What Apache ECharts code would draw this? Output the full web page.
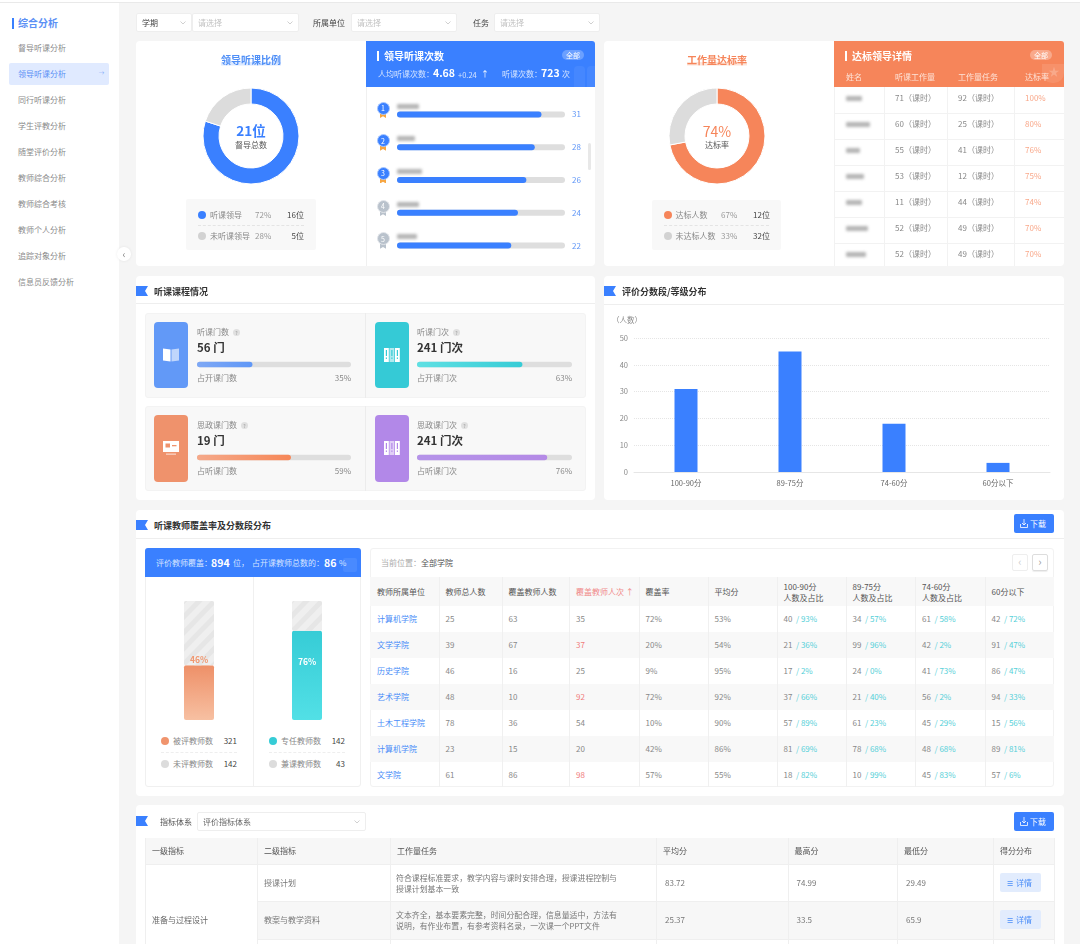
<!DOCTYPE html>
<html lang="zh-CN">
<head>
<meta charset="UTF-8">
<title>领导听课分析</title>
<style>
  html, body { margin: 0; padding: 0; width: 1080px; height: 944px; overflow: hidden; background: #f5f5f5; }
  #page { position: relative; width: 1080px; height: 944px; overflow: hidden; font-family: "Noto Sans CJK SC", "Noto Sans", sans-serif; filter: blur(.3px); }
  #page div { position: absolute; box-sizing: border-box; }
  .t { white-space: nowrap; line-height: 1; }
</style>
</head>
<body>
<div id="page"></div>
<script src="https://cdn.jsdelivr.net/npm/echarts@6/dist/echarts.min.js"></script>
<script>
// ---------- data ----------
var menuItems = ['督导听课分析', '领导听课分析', '同行听课分析', '学生评教分析', '随堂评价分析', '教师综合分析', '教师综合考核', '教师个人分析', '追踪对象分析', '信息员反馈分析'];

var leaderSlices = [80, 20];
var rankValues = [31, 28, 26, 24, 22];
var rankFill = [86, 82, 77, 72, 68];

var workSlices = [72, 28];
var detailWork = [71, 60, 55, 53, 11, 52, 52];
var detailTask = [92, 25, 41, 12, 44, 49, 49];
var detailRate = [100, 80, 76, 75, 74, 70, 70];

var courseTitles = ['听课门数', '听课门次', '思政课门数', '思政课门次'];
var courseValues = ['56 门', '241 门次', '19 门', '241 门次'];
var courseFootnotes = ['占开课门数', '占开课门次', '占听课门数', '占听课门次'];
var coursePercents = [35, 63, 59, 76];
var courseFill = [36, 68, 61, 84];

var scoreBands = ['100-90分', '89-75分', '74-60分', '60分以下'];
var scoreCounts = [31, 45, 18, 3.4];

var coverCovered = [46, 75];
var coverLabels = ['46%', '76%'];

var unitHeaders = ['教师所属单位', '教师总人数', '覆盖教师人数', '覆盖教师人次 ↑', '覆盖率', '平均分', '100-90分\n人数及占比', '89-75分\n人数及占比', '74-60分\n人数及占比', '60分以下'];
var unitNames = ['计算机学院', '文学学院', '历史学院', '艺术学院', '土木工程学院', '计算机学院', '文学院'];
var unitTotal = [25, 39, 46, 48, 78, 23, 61];
var unitCovered = [63, 67, 16, 10, 36, 15, 86];
var unitVisits = [35, 37, 25, 92, 54, 20, 98];
var unitRate = [72, 20, 9, 72, 10, 42, 57];
var unitAvg = [53, 54, 95, 92, 90, 86, 55];
var band1 = [[40, 93], [21, 36], [17, 2], [37, 66], [57, 89], [81, 69], [18, 82]];
var band2 = [[34, 57], [99, 96], [24, 0], [21, 40], [61, 23], [78, 68], [10, 99]];
var band3 = [[61, 58], [42, 2], [41, 73], [56, 2], [45, 29], [48, 68], [45, 83]];
var band4 = [[42, 72], [91, 47], [86, 47], [94, 33], [15, 56], [89, 81], [57, 6]];
var redVisits = [37, 92, 98];

var indexHeaders = ['一级指标', '二级指标', '工作量任务', '平均分', '最高分', '最低分', '得分分布'];
var indexNames = ['授课计划', '教案与教学资料'];
var indexTasks = [
  ['符合课程标准要求，教学内容与课时安排合理，授课进程控制与', '授课计划基本一致'],
  ['文本齐全，基本要素完整，时间分配合理，信息量适中，方法有', '说明，有作业布置，有参考资料名录，一次课一个PPT文件']
];
var indexAvg = ['83.72', '25.37'];
var indexMax = ['74.99', '33.5'];
var indexMin = ['29.49', '65.9'];

// ---------- colours ----------
var BLUE = '#3a80ff', ORANGE = '#f6855a', GREY = '#dcdcdc';
var FONT = '"Noto Sans CJK SC", "Noto Sans", sans-serif';

// ---------- helpers ----------
var page = document.getElementById('page');

function box(x, y, w, h, css, html) {
  var d = document.createElement('div');
  d.style.cssText = 'left:' + x + 'px;top:' + y + 'px;width:' + w + 'px;height:' + h + 'px;' + (css || '');
  if (html) d.innerHTML = html;
  page.appendChild(d);
  return d;
}

// y is the vertical centre of the text
function txt(x, y, s, size, color, opt) {
  opt = opt || {};
  var d = document.createElement('div');
  var tx = opt.align === 'c' ? '-50%' : opt.align === 'r' ? '-100%' : '0';
  d.className = 't';
  d.style.cssText = 'left:' + x + 'px;top:' + y + 'px;font-size:' + size + 'px;color:' + color + ';' +
    'transform:translate(' + tx + ',-50%);' + (opt.bold ? 'font-weight:700;' : '') + (opt.css || '');
  d.innerHTML = s;
  page.appendChild(d);
  return d;
}

function chart(x, y, w, h, option) {
  var c = echarts.init(box(x, y, w, h));
  option.animation = false;
  option.textStyle = { fontFamily: FONT };
  c.setOption(option);
  return c;
}

function panel(x, y, w, h) {
  box(x, y, w, h, 'background:#fff;border-radius:4px;');
}

function flag(x, y, s) {
  box(x, y, 12, 10, '', '<svg width="12" height="10" style="display:block"><polygon points="0,0 12,0 9,5 12,10 0,10" fill="' + BLUE + '"/></svg>');
  if (s) txt(x + 18, y + 5, s, 9, '#333', { bold: true });
}

function select(x, w, y, h, label, color) {
  box(x, y, w, h, 'background:#fff;border:1px solid #eee;border-radius:2px;');
  txt(x + 6, y + h / 2, label, 8, color);
  box(x + w - 12, y + h / 2 - 2, 6, 4, '', '<svg width="6" height="4" style="display:block"><path d="M.5 .5L3 3L5.5 .5" stroke="#bbb" fill="none" stroke-width=".7"/></svg>');
}

function blurName(x, y, w) {
  box(x, y - 2.5, w, 5, 'background:#b5b5b5;filter:blur(1.5px);border-radius:1px;');
}

function legendRow(x, right, y, color, name, pct, val) {
  box(x - 4, y - 4, 8, 8, 'border-radius:50%;background:' + color + ';');
  txt(x + 8, y, name, 8, '#888');
  if (pct) txt(right - 49, y, pct, 8, '#999');
  txt(right, y, val, 8, '#444', { align: 'r' });
}

function donut(cx, cy, values, colors) {
  chart(cx - 60, cy - 60, 120, 120, {
    series: [{
      type: 'pie', center: ['50%', '50%'], radius: [32, 48], startAngle: 90, silent: true,
      label: { show: false }, labelLine: { show: false },
      itemStyle: { borderColor: '#fff', borderWidth: 1 },
      data: values.map(function (v, i) { return { value: v, itemStyle: { color: colors[i] } }; })
    }]
  });
}

// ---------- shell ----------
box(0, 0, 1080, 3, 'background:#fff;border-bottom:1px solid #e9e9e9;');
box(0, 3, 119, 941, 'background:#fff;');
box(12, 18, 2, 11, 'background:' + BLUE + ';');
txt(18, 23, '综合分析', 10, '#5b90f5', { bold: true });
box(9, 63, 100, 22, 'background:#e0eaff;border-radius:2px;');
menuItems.forEach(function (m, i) {
  txt(18, 48 + i * 26, m, 8, i === 1 ? '#5b90f5' : '#8a8a8a');
});
txt(101.5, 74, '→', 5.5, '#7aa5f7', { align: 'c' });
box(117, 247, 14, 14, 'background:#fff;border-radius:50%;box-shadow:0 0 3px rgba(0,0,0,.08);');
txt(124, 253.5, '‹', 10, '#888', { align: 'c' });

// filters
select(136, 56, 13, 19, '学期', '#444');
select(192, 107, 13, 19, '请选择', '#c2c2c2');
txt(313, 22.5, '所属单位', 8, '#444');
select(351, 106, 13, 19, '请选择', '#c2c2c2');
txt(473, 22.5, '任务', 8, '#444');
select(494, 106, 13, 19, '请选择', '#c2c2c2');

// ---------- top left: 领导听课 ----------
panel(136, 41, 459, 225);
txt(251, 60, '领导听课比例', 10, '#4f8ff7', { align: 'c', bold: true, css: 'padding:0 0 1px;background:linear-gradient(transparent 65%,#dbe8ff 65%);' });
donut(251, 136, leaderSlices, [BLUE, GREY]);
txt(251, 131, '21位', 13.5, BLUE, { align: 'c', bold: true });
txt(251, 145, '督导总数', 8, '#555', { align: 'c' });
box(186, 199, 130, 51, 'background:#f8f8f8;border-radius:2px;');
box(198, 225, 106, 0, 'border-top:1px dashed #e4e4e4;');
legendRow(202, 304, 215, BLUE, '听课领导', '72%', '16位');
legendRow(202, 304, 236, '#d2d2d2', '未听课领导', '28%', '5位');

box(366, 87, 229, 179, 'border-left:1px solid #f0f0f0;');
box(366, 41, 229, 46, 'background:' + BLUE + ';border-radius:0 3px 0 0;overflow:hidden;');
box(574, 66, 11, 21, 'background:rgba(255,255,255,.06);border-radius:4px 4px 0 0;');
box(587, 66, 8, 21, 'background:rgba(255,255,255,.06);border-radius:4px 0 0 0;');
box(377, 51, 2, 10, 'background:#fff;');
txt(384, 56, '领导听课次数', 10, '#fff', { bold: true });
box(562, 50, 22, 10, 'background:rgba(255,255,255,.25);border-radius:5px;');
txt(573, 55, '全部', 7, '#fff', { align: 'c' });
txt(378, 74, '人均听课次数：', 8, '#d5e4ff');
txt(433, 73, '4.68', 10.5, '#fff', { bold: true });
txt(458, 74.5, '+0.24', 7.5, '#d5e4ff');
txt(481, 74, '↑', 8, '#fff');
txt(502, 74, '听课次数：', 8, '#d5e4ff');
txt(541, 73, '723', 10.5, '#fff', { bold: true });
txt(562, 74, '次', 8, '#d5e4ff');

var rankNameW = [22, 18, 25, 22, 20];
rankValues.forEach(function (v, i) {
  var cy = 108 + i * 32.7;
  var top3 = i < 3;
  box(380, cy + 5, 6, 5, 'background:' + (top3 ? '#f7a641' : '#b9c2cc') + ';clip-path:polygon(0 0,100% 0,100% 100%,50% 65%,0 100%);');
  box(376.5, cy - 6.5, 13, 13, 'border-radius:50%;border:1.5px solid ' + (top3 ? '#a9c8ff' : '#e2e5ea') + ';background:' + (top3 ? BLUE : '#b9c2cc') + ';');
  txt(383, cy, String(i + 1), 7, '#fff', { align: 'c' });
  blurName(397, cy - 2, rankNameW[i]);
});
box(587.5, 143, 3, 27, 'background:#e8e8e8;border-radius:2px;');
chart(397, 98, 190, 164, {
  grid: { left: 0, right: 22, top: 0, bottom: 0 },
  xAxis: { type: 'value', min: 0, max: 100, show: false },
  yAxis: {
    type: 'category', position: 'right', inverse: true, data: rankValues.map(String),
    axisLine: { show: false }, axisTick: { show: false },
    axisLabel: { color: '#5f96f7', fontSize: 8, margin: 7 }
  },
  series: [{
    type: 'bar', data: rankFill, barWidth: 6, silent: true,
    showBackground: true, backgroundStyle: { color: '#dedede', borderRadius: 3 },
    itemStyle: { color: BLUE, borderRadius: 3 }
  }]
});

// ---------- top right: 工作量达标 ----------
panel(604, 41, 459.5, 225);
txt(717, 60, '工作量达标率', 10, '#f6855a', { align: 'c', bold: true, css: 'padding:0 0 1px;background:linear-gradient(transparent 65%,#fde5da 65%);' });
donut(717, 136, workSlices, [ORANGE, GREY]);
txt(717, 130.5, '74%', 14, '#f6855a', { align: 'c' });
txt(717, 145, '达标率', 8, '#555', { align: 'c' });
box(652, 200, 129, 50, 'background:#f8f8f8;border-radius:2px;');
box(664, 225, 105, 0, 'border-top:1px dashed #e4e4e4;');
legendRow(667.5, 770, 215, ORANGE, '达标人数', '67%', '12位');
legendRow(667.5, 770, 236, '#d2d2d2', '未达标人数', '33%', '32位');

box(834, 41, 229.5, 46, 'background:' + ORANGE + ';border-radius:0 3px 0 0;');
box(1042, 64, 21.5, 19, 'background:rgba(255,255,255,.1);border-radius:0 0 10px 10px;');
txt(1054, 71, '★', 11, 'rgba(255,255,255,.22)', { align: 'c' });
box(845, 51, 2, 10, 'background:#fff;');
txt(852, 56, '达标领导详情', 10, '#fff', { bold: true });
box(1030, 50, 22, 10, 'background:rgba(255,255,255,.3);border-radius:5px;');
txt(1041, 55, '全部', 7, '#fff', { align: 'c' });
txt(846, 77, '姓名', 8, '#fde3d8');
txt(895, 77, '听课工作量', 8, '#fde3d8');
txt(958, 77, '工作量任务', 8, '#fde3d8');
txt(1025, 77, '达标率', 8, '#fde3d8');
var detailNameW = [16, 24, 14, 18, 16, 22, 20];
detailWork.forEach(function (w, i) {
  var top = 87 + i * 26, cy = top + 11;
  if (i > 0) box(834, top, 229.5, 0, 'border-top:1px solid #f2f2f2;');
  blurName(846, cy, detailNameW[i]);
  txt(895, cy, w + '（课时）', 8, '#888');
  txt(958, cy, detailTask[i] + '（课时）', 8, '#888');
  txt(1025, cy, detailRate[i] + '%', 8, '#f9a88a');
});
[834, 884, 947, 1014].forEach(function (x) { box(x, 87, 0, 179, 'border-left:1px solid #f2f2f2;'); });

// ---------- 听课课程情况 ----------
panel(136, 276, 459, 224);
box(136, 303, 459, 0, 'border-top:1px solid #eee;');
flag(136, 286, '听课课程情况');
box(145, 313, 441, 85, 'background:#f8f8f8;border-radius:3px;border:1px solid #f3f3f3;');
box(145, 406, 441, 85, 'background:#f8f8f8;border-radius:3px;border:1px solid #f3f3f3;');
box(365, 313, 0, 85, 'border-left:1px solid #ececec;');
box(365, 406, 0, 85, 'border-left:1px solid #ececec;');

var courseColors = ['#6299f7', '#35cad6', '#ef926c', '#b288e8'];
var barColors = [['#7ea8f5', '#5f97f7'], ['#5fe0e3', '#36ccd6'], ['#f5a98a', '#f68758'], ['#b593e9', '#b48ae6']];

function iconBook() {
  return '<svg width="16" height="14" style="display:block"><path d="M0 .5 L7.5 1.5 V13.5 L0 12.5Z" fill="#fff"/><path d="M8.5 1.5 L16 .5 V12.5 L8.5 13.5Z" fill="#fff" opacity=".6"/></svg>';
}
function iconBinders(c) {
  var s = '<svg width="16" height="14" style="display:block">';
  [0, 5.5, 11].forEach(function (x, i) {
    s += '<rect x="' + x + '" y="0" width="4.8" height="14" fill="#fff" opacity="' + (i === 1 ? .6 : 1) + '"/>' +
      '<rect x="' + (x + 1.8) + '" y="2" width="1.2" height="6" fill="' + c + '"/>' +
      '<rect x="' + (x + 1.8) + '" y="9.5" width="1.2" height="1.4" fill="' + c + '"/>';
  });
  return s + '</svg>';
}
function iconCard(c) {
  return '<svg width="16" height="14" style="display:block"><rect x="0" y="0" width="16" height="11" fill="#fff"/><rect x="2.5" y="2.5" width="4.5" height="4" fill="' + c + '"/><rect x="9" y="4" width="4.5" height="1.3" fill="' + c + '"/><rect x="3" y="12.5" width="10" height="1.3" fill="#fff" opacity=".6"/></svg>';
}
var courseIcons = [iconBook, iconBinders, iconCard, iconBinders];

courseTitles.forEach(function (title, i) {
  var col = i % 2, row = i < 2 ? 0 : 1;
  var cardX = col ? 375 : 154, textX = col ? 417 : 197, barW = col ? 155 : 154;
  var top = row ? 415 : 322, cardH = row ? 67 : 66;
  box(cardX, top, 33.5, cardH, 'border-radius:4px;background:' + courseColors[i] + ';');
  box(cardX + 9, top + 26, 16, 14, '', courseIcons[i](courseColors[i]));
  var tip = txt(textX, top + 10, title, 8, '#888');
  box(textX + tip.offsetWidth + 4, top + 6.5, 7, 7, 'background:#e0e0e0;border-radius:50%;');
  txt(textX + tip.offsetWidth + 7.5, top + 10, '?', 5, '#999', { align: 'c' });
  txt(textX, top + 26, courseValues[i], 11.5, '#333', { bold: true });
  chart(textX, top + 39, barW, 7, {
    grid: { left: 0, right: 0, top: 0, bottom: 0 },
    xAxis: { type: 'value', min: 0, max: 100, show: false },
    yAxis: { type: 'category', data: [title], show: false },
    series: [{
      type: 'bar', data: [courseFill[i]], barWidth: 5.5, silent: true,
      showBackground: true, backgroundStyle: { color: '#dedede', borderRadius: 3 },
      itemStyle: {
        borderRadius: 3,
        color: new echarts.graphic.LinearGradient(0, 0, 1, 0, [
          { offset: 0, color: barColors[i][0] }, { offset: 1, color: barColors[i][1] }
        ])
      }
    }]
  });
  txt(textX, top + 56, courseFootnotes[i], 8, '#888');
  txt(textX + barW, top + 56, coursePercents[i] + '%', 8, '#888', { align: 'r' });
});

// ---------- 评价分数段 ----------
panel(604, 276, 459.5, 224);
box(604, 304, 459.5, 0, 'border-top:1px solid #eee;');
flag(604, 286, '评价分数段/等级分布');
chart(604, 305, 460, 195, {
  grid: { left: 30, right: 14, top: 33, bottom: 28 },
  xAxis: {
    type: 'category', data: scoreBands,
    axisLine: { lineStyle: { color: '#e6e6e6', width: 1 } }, axisTick: { show: false },
    axisLabel: { color: '#666', fontSize: 7.5, margin: 7 }
  },
  yAxis: {
    type: 'value', min: 0, max: 50, interval: 10, name: '（人数）', nameGap: 14,
    nameTextStyle: { color: '#888', fontSize: 7.5, align: 'center', padding: [0, 14, 0, 0] },
    axisLine: { show: false }, axisTick: { show: false },
    axisLabel: { color: '#888', fontSize: 7.5, margin: 6 },
    splitLine: { lineStyle: { type: 'dotted', color: '#e5e5e5' } }
  },
  series: [{ type: 'bar', data: scoreCounts, barWidth: 23, silent: true, itemStyle: { color: BLUE } }]
});

// ---------- 听课教师覆盖率 ----------
panel(136, 510, 927.5, 286);
box(136, 538, 927.5, 0, 'border-top:1px solid #eee;');
flag(136, 520, '听课教师覆盖率及分数段分布');
function downloadBtn(y) {
  box(1014, y, 40, 19, 'background:' + BLUE + ';border-radius:2px;');
  box(1020, y + 5, 8, 9, '', '<svg width="8" height="9" style="display:block"><path d="M4 0V6 M2 4L4 6L6 4 M.5 5V8.5H7.5V5" stroke="#fff" fill="none" stroke-width=".8"/></svg>');
  txt(1030, y + 9.5, '下载', 8, '#fff');
}
downloadBtn(514);

box(145, 548, 216, 239, 'border:1px solid #f0f0f0;border-radius:3px;');
box(145, 548, 216, 29, 'background:' + BLUE + ';border-radius:3px 3px 0 0;overflow:hidden;');
box(343, 558, 14, 14, 'background:rgba(255,255,255,.08);border-radius:2px;');
txt(156, 563, '评价教师覆盖：', 8, '#d5e4ff');
txt(211, 562.5, '894', 10.5, '#fff', { bold: true });
txt(233, 563, '位，', 8, '#d5e4ff');
txt(252, 563, '占开课教师总数的：', 8, '#d5e4ff');
txt(324, 562.5, '86', 10.5, '#fff', { bold: true });
txt(339, 563, '%', 8, '#d5e4ff');
box(253, 577, 0, 210, 'border-left:1px solid #f0f0f0;');

chart(145, 590, 216, 140, {
  grid: { left: 0, right: 0, top: 11, bottom: 10 },
  xAxis: { type: 'category', data: ['被评教师', '专任教师'], show: false },
  yAxis: { type: 'value', min: 0, max: 100, show: false },
  series: [{
    type: 'bar', stack: 'cover', barWidth: 30, silent: true,
    data: [{
      value: coverCovered[0],
      itemStyle: {
        borderRadius: 2,
        color: new echarts.graphic.LinearGradient(0, 0, 0, 1, [{ offset: 0, color: '#ee9068' }, { offset: 1, color: '#f7c0a2' }])
      },
      label: { show: true, position: 'top', offset: [0, 4], formatter: coverLabels[0], color: '#f0976f', fontSize: 8.5, fontWeight: 700 }
    }, {
      value: coverCovered[1],
      itemStyle: {
        borderRadius: 2,
        color: new echarts.graphic.LinearGradient(0, 0, 0, 1, [{ offset: 0, color: '#36ccd6' }, { offset: 1, color: '#52e0e6' }])
      },
      label: { show: true, position: 'insideTop', offset: [0, 22], formatter: coverLabels[1], color: '#fff', fontSize: 8.5, fontWeight: 700 }
    }]
  }, {
    type: 'bar', stack: 'cover', barWidth: 30, silent: true,
    data: coverCovered.map(function (v) { return 100 - v; }),
    itemStyle: {
      color: '#efefef', borderRadius: 2,
      decal: { symbol: 'rect', rotation: -0.8, dashArrayX: [1, 0], dashArrayY: [5, 6], color: '#e6e6e6', symbolSize: 1 }
    }
  }]
});

box(161, 752, 76, 0, 'border-top:1px dashed #eee;');
box(269, 752, 76, 0, 'border-top:1px dashed #eee;');
legendRow(165, 237, 741, '#f0946d', '被评教师数', '', '321');
legendRow(165, 237, 764, '#dcdcdc', '未评教师数', '', '142');
legendRow(273, 345, 741, '#36ccd6', '专任教师数', '', '142');
legendRow(273, 345, 764, '#dcdcdc', '兼课教师数', '', '43');

box(370, 548, 684, 239, 'border:1px solid #f2f2f2;border-radius:3px;');
txt(381, 563, '当前位置：', 8, '#aaa');
txt(421, 563, '全部学院', 8, '#555');
box(1012, 554, 16, 17, 'border:1px solid #eee;border-radius:2px;');
txt(1020, 561, '‹', 11, '#ccc', { align: 'c' });
box(1032, 554, 16, 17, 'border:1px solid #ddd;border-radius:2px;box-shadow:0 1px 1px #eee;');
txt(1040, 561, '›', 11, '#999', { align: 'c' });

var colX = [370, 438.5, 501.5, 569, 638.5, 707.5, 776.5, 845.5, 915, 984.5, 1054];
box(370, 577, 684, 29, 'background:#f8f8f8;');
unitNames.forEach(function (n, i) {
  if (i % 2) box(370, 606 + i * 26, 684, 26, 'background:#f8f8f8;');
});
colX.slice(1, -1).forEach(function (x) { box(x, 577, 0, 210, 'border-left:1px solid #f0f0f0;'); });
unitHeaders.forEach(function (h, c) {
  var lines = h.split('\n'), color = c === 3 ? '#f08a8a' : '#555';
  if (lines.length > 1) {
    txt(colX[c] + 7, 586.5, lines[0], 8, color);
    txt(colX[c] + 7, 597.5, lines[1], 8, color);
  } else {
    txt(colX[c] + 7, 592, h, 8, color);
  }
});
function bandCell(x, y, pair) {
  txt(x, y, pair[0] + '<span style="color:#55d0d8">&nbsp;&nbsp;/ ' + pair[1] + '%</span>', 8, '#888');
}
unitNames.forEach(function (n, i) {
  var cy = 619 + i * 26;
  txt(colX[0] + 7, cy, n, 8, '#4a8df8');
  txt(colX[1] + 7, cy, unitTotal[i], 8, '#888');
  txt(colX[2] + 7, cy, unitCovered[i], 8, '#888');
  txt(colX[3] + 7, cy, unitVisits[i], 8, redVisits.indexOf(unitVisits[i]) >= 0 ? '#f07c7c' : '#888');
  txt(colX[4] + 7, cy, unitRate[i] + '%', 8, '#888');
  txt(colX[5] + 7, cy, unitAvg[i] + '%', 8, '#888');
  bandCell(colX[6] + 7, cy, band1[i]);
  bandCell(colX[7] + 7, cy, band2[i]);
  bandCell(colX[8] + 7, cy, band3[i]);
  bandCell(colX[9] + 7, cy, band4[i]);
});

// ---------- 指标体系 ----------
box(136, 805, 927.5, 139, 'background:#fff;border-radius:4px 4px 0 0;');
flag(136, 816);
txt(160, 821.5, '指标体系', 8, '#555');
select(197, 169, 812, 19, '评价指标体系', '#666');
downloadBtn(812);

var idxX = [145, 257, 390, 656, 787.5, 897, 993, 1054];
box(145, 838, 909, 26, 'background:#f7f7f7;');
box(257, 901, 797, 38, 'background:#f7f7f7;');
box(145, 864, 909, 0, 'border-top:1px solid #efefef;');
box(257, 901, 797, 0, 'border-top:1px solid #efefef;');
box(257, 939, 797, 0, 'border-top:1px solid #efefef;');
box(145, 838, 0, 106, 'border-left:1px solid #efefef;');
box(1054, 838, 0, 106, 'border-left:1px solid #efefef;');
idxX.slice(1, -1).forEach(function (x) { box(x, 838, 0, 106, 'border-left:1px solid #efefef;'); });
indexHeaders.forEach(function (h, c) { txt(idxX[c] + 7, 851, h, 8, '#555'); });
txt(152, 920, '准备与过程设计', 8, '#666');
indexNames.forEach(function (n, i) {
  var cy = i ? 920 : 883;
  txt(idxX[1] + 7, cy, n, 8, '#777');
  txt(idxX[2] + 6, cy - 5.5, indexTasks[i][0], 7.9, '#777');
  txt(idxX[2] + 6, cy + 5.5, indexTasks[i][1], 7.9, '#777');
  txt(idxX[3] + 9, cy, indexAvg[i], 8, '#777');
  txt(idxX[4] + 9, cy, indexMax[i], 8, '#777');
  txt(idxX[5] + 9, cy, indexMin[i], 8, '#777');
  box(1000, cy - 10, 41, 19, 'background:#e2ecfd;border-radius:2px;');
  txt(1007, cy - 0.5, '☰', 7, '#4a8df8');
  txt(1016, cy - 0.5, '详情', 8, '#4a8df8');
});
</script>
</body>
</html>
